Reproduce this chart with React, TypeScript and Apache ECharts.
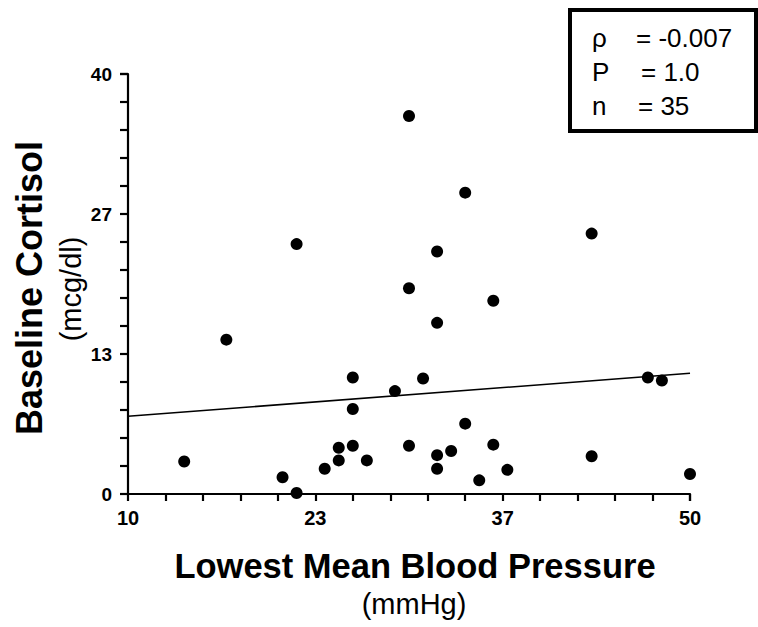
import React, { useEffect, useRef } from "react";
import * as echarts from "echarts";

// Data
const pressure = [22, 30, 34, 32, 43, 30, 36, 17, 26, 26, 14, 21, 22, 24, 25, 25, 26, 27, 32, 31, 29, 47, 48, 34, 30, 32, 33, 36, 32, 35, 37, 43, 50];
const cortisol = [23.8, 36.0, 28.7, 23.1, 24.8, 19.6, 18.4, 14.7, 11.1, 8.1, 3.1, 1.6, 0.1, 2.4, 4.4, 3.2, 4.6, 3.2, 16.3, 11.0, 9.8, 11.1, 10.8, 6.7, 4.6, 3.7, 4.1, 4.7, 2.4, 1.3, 2.3, 3.6, 1.9];
const fitX = [10, 50];
const fitY = [7.4, 11.5];

const xMin = 10;
const xMax = 50;
const yMin = 0;
const yMax = 40;
const tickStep = 40 / 15; // 15 tick intervals on each axis
const labelEvery = 5; // labels 10, 23, 37, 50 and 0, 13, 27, 40

const statSymbols = ["ρ", "P", "n"];
const statValues = ["= -0.007", "= 1.0", "= 35"];

export default function App() {
  const ref = useRef<HTMLDivElement>(null);
  useEffect(() => {
    if (!ref.current) return;
    const chart = echarts.init(ref.current, null, { renderer: "svg" });
    const font = "'Liberation Sans', Arial, sans-serif";
    const rowY = [38, 72, 106];
    const symX = [592, 592, 592];
    const valX = [636, 641, 638];
    const statTexts: any[] = [];
    statSymbols.forEach((s, i) => {
      statTexts.push({
        type: "text",
        x: symX[i],
        y: rowY[i],
        z: 10,
        style: { text: s, fontSize: 26, fontFamily: font, fill: "#000", align: "left", verticalAlign: "middle" },
      });
      statTexts.push({
        type: "text",
        x: valX[i],
        y: rowY[i],
        z: 10,
        style: { text: statValues[i], fontSize: 26, fontFamily: font, fill: "#000", align: "left", verticalAlign: "middle" },
      });
    });
    const labelFmt = (v: number, idx: number) => (idx % labelEvery === 0 ? String(Math.round(v)) : "");
    chart.setOption({
      animation: false,
      backgroundColor: "#fff",
      grid: { left: 128, right: 68, top: 74, bottom: 133 },
      xAxis: {
        type: "value",
        min: xMin,
        max: xMax,
        interval: tickStep,
        splitLine: { show: false },
        axisLine: { show: true, onZero: false, lineStyle: { color: "#000", width: 2.2 } },
        axisTick: { show: true, length: 7, lineStyle: { color: "#000", width: 2.2 } },
        axisLabel: {
          formatter: labelFmt,
          color: "#000",
          fontSize: 20,
          fontWeight: "bold",
          fontFamily: font,
          margin: 14,
          showMinLabel: true,
          showMaxLabel: true,
        },
      },
      yAxis: {
        type: "value",
        min: yMin,
        max: yMax,
        interval: tickStep,
        splitLine: { show: false },
        axisLine: { show: true, onZero: false, lineStyle: { color: "#000", width: 2.2 } },
        axisTick: { show: true, length: 8, lineStyle: { color: "#000", width: 2.2 } },
        axisLabel: {
          formatter: labelFmt,
          color: "#000",
          fontSize: 19,
          fontWeight: "bold",
          fontFamily: font,
          margin: 16,
          showMinLabel: true,
          showMaxLabel: true,
        },
      },
      series: [
        {
          type: "line",
          data: fitX.map((x, i) => [x, fitY[i]]),
          showSymbol: false,
          symbol: "none",
          lineStyle: { color: "#000", width: 1.6 },
          silent: true,
          z: 2,
        },
        {
          type: "scatter",
          data: pressure.map((x, i) => [x, cortisol[i]]),
          symbol: "circle",
          symbolSize: 12,
          itemStyle: { color: "#000", opacity: 1 },
          clip: false,
          z: 3,
        },
      ],
      graphic: [
        {
          type: "text",
          x: 29,
          y: 288,
          rotation: Math.PI / 2,
          style: { text: "Baseline Cortisol", fontSize: 36, fontWeight: "bold", fontFamily: font, fill: "#000", align: "center", verticalAlign: "middle" },
        },
        {
          type: "text",
          x: 71,
          y: 289,
          rotation: Math.PI / 2,
          style: { text: "(mcg/dl)", fontSize: 29, fontFamily: font, fill: "#000", align: "center", verticalAlign: "middle" },
        },
        {
          type: "text",
          x: 415,
          y: 566,
          style: { text: "Lowest Mean Blood Pressure", fontSize: 34.5, fontWeight: "bold", fontFamily: font, fill: "#000", align: "center", verticalAlign: "middle" },
        },
        {
          type: "text",
          x: 414,
          y: 604,
          style: { text: "(mmHg)", fontSize: 29, fontFamily: font, fill: "#000", align: "center", verticalAlign: "middle" },
        },
        {
          type: "rect",
          shape: { x: 570, y: 10, width: 186, height: 121 },
          style: { fill: "#fff", stroke: "#000", lineWidth: 4 },
        },
        ...statTexts,
      ],
    });
    return () => chart.dispose();
  }, []);
  return <div ref={ref} style={{ position: "fixed", left: 0, top: 0, width: 758, height: 627 }} />;
}
